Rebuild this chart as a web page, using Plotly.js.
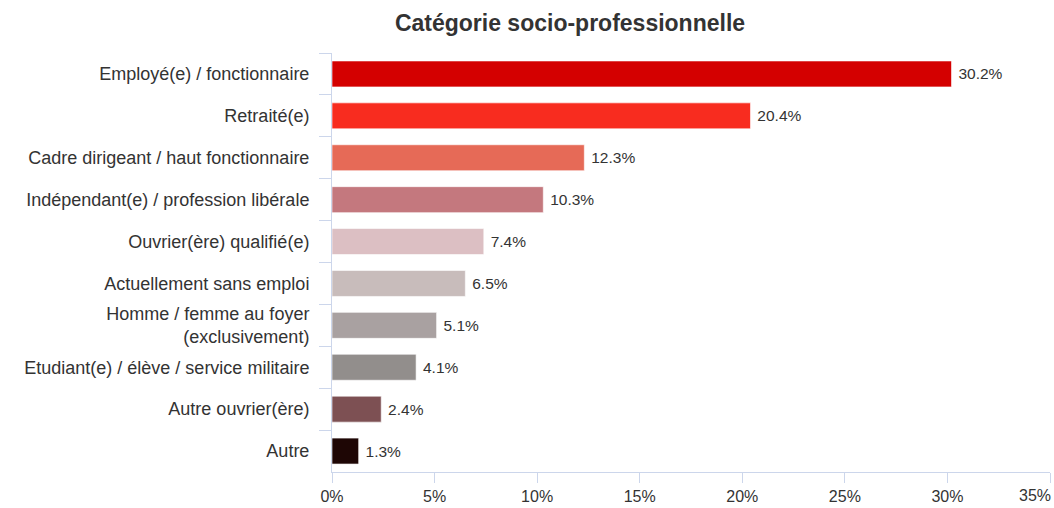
<!DOCTYPE html>
<html>
<head>
<meta charset="utf-8">
<script src="https://cdn.plot.ly/plotly-3.0.1.min.js"></script>
<style>html,body{margin:0;padding:0;background:#fff;}#chart{width:1054px;height:508px;}</style>
</head>
<body>
<div id="chart"></div>
<script>
const categories = [
  "Employé(e) / fonctionnaire",
  "Retraité(e)",
  "Cadre dirigeant / haut fonctionnaire",
  "Indépendant(e) / profession libérale",
  "Ouvrier(ère) qualifié(e)",
  "Actuellement sans emploi",
  "Homme / femme au foyer<br>(exclusivement)",
  "Etudiant(e) / élève / service militaire",
  "Autre ouvrier(ère)",
  "Autre"
];
const values = [30.2, 20.4, 12.3, 10.3, 7.4, 6.5, 5.1, 4.1, 2.4, 1.3];
const colors = ["#d40000", "#f82c1f", "#e66a57", "#c4787e", "#dcbfc3", "#c8bcbb", "#a9a1a1", "#928e8c", "#7d5053", "#1e0605"];
const xTickVals = [0, 5, 10, 15, 20, 25, 30, 35];
const lastTick = xTickVals[xTickVals.length - 1];

const FONT = "Arial, Liberation Sans, sans-serif";

const trace = {
  type: "bar",
  orientation: "h",
  x: values,
  y: categories,
  marker: { color: colors, line: { color: "rgba(255,255,255,0.6)", width: 1 } },
  text: values.map(v => "\u2005" + v.toFixed(1) + "%"),
  textposition: "outside",
  textfont: { family: FONT, size: 15.5, color: "#333" },
  cliponaxis: false,
  hoverinfo: "none"
};

const layout = {
  width: 1054,
  height: 508,
  margin: { l: 332, r: 4, t: 53, b: 36 },
  paper_bgcolor: "#fff",
  plot_bgcolor: "#fff",
  font: { family: FONT, color: "#333" },
  title: {
    text: "<b>Catégorie socio-professionnelle</b>",
    font: { size: 23, color: "#333" },
    x: 570 / 1054,
    xanchor: "center",
    y: 1 - 23 / 508,
    yanchor: "middle"
  },
  bargap: 0.38,
  showlegend: false,
  xaxis: {
    range: [0, 35],
    tickvals: xTickVals,
    ticktext: xTickVals.map(v => v === lastTick ? "" : v + "%"),
    showgrid: false,
    zeroline: false,
    showline: true,
    linecolor: "#ccd6eb",
    linewidth: 1,
    ticks: "outside",
    ticklen: 10,
    tickcolor: "#ccd6eb",
    tickfont: { size: 16, color: "#333" },
    fixedrange: true
  },
  yaxis: {
    type: "category",
    autorange: "reversed",
    showgrid: false,
    zeroline: false,
    showline: true,
    linecolor: "#ccd6eb",
    linewidth: 1,
    ticks: "outside",
    tickson: "boundaries",
    ticklen: 12,
    tickcolor: "#ccd6eb",
    tickfont: { size: 18, color: "#333" },
    ticklabelstandoff: 18,
    fixedrange: true
  },
  annotations: [{
    xref: "x", yref: "paper",
    x: lastTick, y: 0,
    xanchor: "right", yanchor: "top",
    xshift: 3, yshift: -13,
    text: lastTick + "%",
    showarrow: false,
    font: { family: FONT, size: 16, color: "#333" }
  }]
};

Plotly.newPlot("chart", [trace], layout, { displayModeBar: false, staticPlot: true });
</script>
</body>
</html>
